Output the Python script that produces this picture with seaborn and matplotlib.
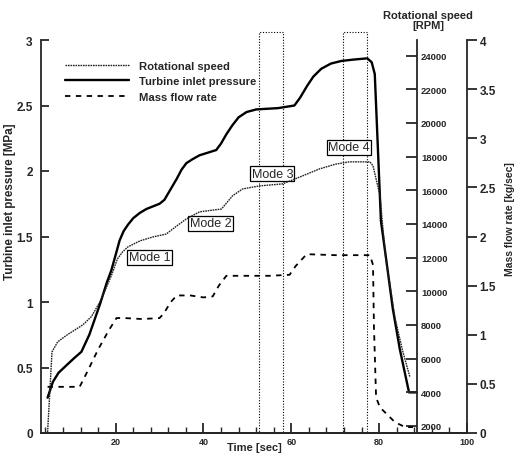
import matplotlib
matplotlib.use("Agg")
import matplotlib.pyplot as plt
from matplotlib.patches import Rectangle
from matplotlib.ticker import MultipleLocator
import pandas as pd
import seaborn as sns

# turbine inlet pressure [MPa]
press_t = [4.5, 5.7, 7.0, 8.9, 10.5, 12.2, 14.0, 16.4, 18.0, 19.0, 20.0, 20.9, 21.8, 22.8,
           24.0, 25.5, 27.0, 28.5, 30.0, 31.1, 32.5, 33.9, 35.0, 36.1, 37.5, 39.1, 41.0,
           42.9, 44.0, 45.2, 46.6, 48.0, 49.8, 52.0, 57.0, 60.7, 62.0, 63.6, 65.0, 66.8,
           69.0, 71.4, 74.0, 77.3, 78.3, 79.0, 80.4, 81.7, 83.1, 84.7, 86.8, 88.6]
press_v = [0.27, 0.39, 0.46, 0.52, 0.57, 0.62, 0.75, 0.98, 1.15, 1.24, 1.36, 1.47, 1.54, 1.59,
           1.64, 1.68, 1.71, 1.73, 1.75, 1.78, 1.86, 1.94, 2.01, 2.06, 2.09, 2.12, 2.14,
           2.16, 2.21, 2.28, 2.35, 2.41, 2.45, 2.47, 2.48, 2.50, 2.56, 2.65, 2.72, 2.78,
           2.82, 2.84, 2.85, 2.86, 2.83, 2.74, 1.62, 1.30, 0.95, 0.64, 0.31, 0.31]

# rotational speed [RPM]
rpm_t = [4.5, 4.9, 5.5, 6.8, 8.9, 12.5, 14.5, 16.4, 18.0, 19.0, 20.4, 21.6, 22.8, 25.5,
         28.5, 31.5, 33.9, 36.1, 39.1, 44.1, 46.6, 48.9, 52.7, 58.0, 62.5, 66.4, 70.0,
         73.2, 77.9, 78.6, 80.2, 80.8, 81.5, 83.6, 85.3, 87.0]
rpm_v = [1640, 3500, 6400, 7000, 7400, 8000, 8500, 9370, 10300, 10910, 11920, 12350, 12640, 12990,
         13230, 13400, 13880, 14300, 14720, 14890, 15670, 16080, 16260, 16380, 16850, 17270, 17550,
         17690, 17690, 17450, 15670, 13880, 11980, 8420, 6500, 4910]

# mass flow rate [kg/sec]
flow_t = [4.5, 11.8, 13.5, 16.0, 18.5, 20.2, 22.0, 26.0, 30.0, 31.0, 32.5, 33.9, 37.0, 40.0,
          42.1, 43.5, 45.2, 50.0, 55.0, 59.6, 61.0, 63.5, 70.0, 77.9, 78.6, 78.8, 79.3,
          80.2, 83.6, 85.9, 87.7]
flow_v = [0.47, 0.47, 0.62, 0.85, 1.05, 1.17, 1.17, 1.16, 1.17, 1.22, 1.33, 1.40, 1.40, 1.38,
          1.39, 1.50, 1.60, 1.60, 1.60, 1.61, 1.70, 1.82, 1.81, 1.81, 1.71, 1.10, 0.36,
          0.26, 0.11, 0.06, 0.06]

modes = ["Mode 1", "Mode 2", "Mode 3", "Mode 4"]
mode_t = [27.7, 41.6, 55.7, 73.2]
mode_v = [1.34, 1.60, 1.98, 2.18]

windows = [(52.7, 58.0), (71.8, 77.3)]

rpm_ticks = list(range(2000, 24001, 2000))

sns.set_style("ticks")
plt.rcParams["font.family"] = ["Liberation Sans", "DejaVu Sans"]
plt.rcParams["font.weight"] = "bold"

fig = plt.figure(figsize=(5.15, 4.56), dpi=100)
ax = fig.add_axes([41 / 515, 22 / 456, 426 / 515, 393 / 456])
ax2 = ax.twinx()
ax3 = ax.twinx()

df_p = pd.DataFrame({"t": press_t, "v": press_v})
df_r = pd.DataFrame({"t": rpm_t, "v": rpm_v})
df_f = pd.DataFrame({"t": flow_t, "v": flow_v})

sns.lineplot(data=df_p, x="t", y="v", ax=ax, color="black", lw=1.7, sort=False, legend=False)
sns.lineplot(data=df_r, x="t", y="v", ax=ax2, color="#222222", lw=1.0, sort=False,
             linestyle=(0, (1.2, 0.6)), legend=False)
sns.lineplot(data=df_f, x="t", y="v", ax=ax3, color="black", lw=1.3, sort=False,
             linestyle=(0, (3, 3)), legend=False)

ax.set_xlim(3, 100)
ax.set_ylim(0, 3)
ax2.set_ylim(1580, 24930)
ax3.set_ylim(0, 4)

for a in (ax, ax2, ax3):
    a.set_xlabel("")
    a.set_ylabel("")
    a.spines["top"].set_visible(False)
    for s in a.spines.values():
        s.set_linewidth(1.3)
ax.spines["right"].set_visible(False)
ax2.spines["left"].set_visible(False)
ax3.spines["left"].set_visible(False)
ax2.spines["right"].set_position(("axes", (88.6 - 3) / 97))

ax.xaxis.set_major_locator(MultipleLocator(20))
ax.xaxis.set_minor_locator(MultipleLocator(4))
ax.tick_params(axis="x", which="major", direction="in", length=7, width=1.3, labelsize=6.5, pad=3)
ax.tick_params(axis="x", which="minor", direction="in", length=4, width=1)
ax.tick_params(axis="y", direction="in", length=6, width=1.3, labelsize=8.5, pad=6)
ax.set_yticks([0, 0.5, 1, 1.5, 2, 2.5, 3])
ax.set_yticklabels(["0", "0.5", "1", "1.5", "2", "2.5", "3"])

ax2.set_yticks(rpm_ticks)
ax2.tick_params(axis="y", direction="in", length=8, width=1.3, labelsize=6.8, pad=3)
ax3.set_yticks([0, 0.5, 1, 1.5, 2, 2.5, 3, 3.5, 4])
ax3.set_yticklabels(["0", "0.5", "1", "1.5", "2", "2.5", "3", "3.5", "4"])
ax3.tick_params(axis="y", direction="out", length=7, width=1.3, labelsize=8.5, pad=2)

for t0, t1 in windows:
    ax.add_patch(Rectangle((t0, 0), t1 - t0, 3.06, fill=False, ec="black", lw=0.8,
                           ls=(0, (1, 1.5)), clip_on=False, zorder=1))

for name, t, v in zip(modes, mode_t, mode_v):
    ax.text(t, v, name, ha="center", va="center", fontsize=9, fontweight="normal",
            bbox=dict(boxstyle="square,pad=0.1", fc="white", ec="black", lw=0.9), zorder=5)

leg_handles = [
    plt.Line2D([], [], color="#222222", lw=1.0, ls=(0, (1.2, 0.6))),
    plt.Line2D([], [], color="black", lw=1.7),
    plt.Line2D([], [], color="black", lw=1.3, ls=(0, (3, 3))),
]
ax.legend(leg_handles, ["Rotational speed", "Turbine inlet pressure", "Mass flow rate"],
          loc="upper left", bbox_to_anchor=(65 / 515, 1 - 62 / 456), bbox_transform=fig.transFigure,
          frameon=False, fontsize=8.1, handlelength=5.7, handletextpad=0.9, labelspacing=0.48,
          borderpad=0, borderaxespad=0)

fig.text(10 / 515, 1 - 202 / 456, "Turbine inlet pressure [MPa]", rotation=90,
         ha="center", va="center", fontsize=8.4, fontweight="bold")
fig.text(254 / 515, 1 - 448 / 456, "Time [sec]", ha="center", va="center",
         fontsize=8, fontweight="bold")
fig.text(428 / 515, 1 - 21 / 456, "Rotational speed\n[RPM]", ha="center", va="center",
         fontsize=8, fontweight="bold", linespacing=1.0)
fig.text(510 / 515, 1 - 219 / 456, "Mass flow rate [kg/sec]", rotation=90,
         ha="center", va="center", fontsize=7.5, fontweight="bold")

fig.savefig("out.png", dpi=100)
